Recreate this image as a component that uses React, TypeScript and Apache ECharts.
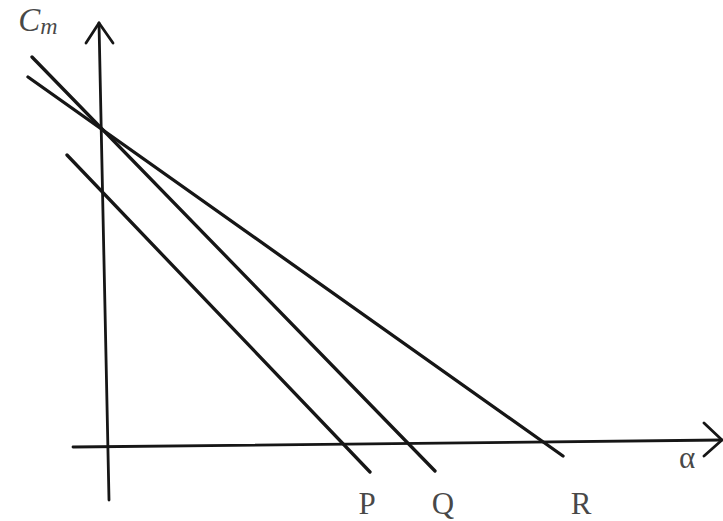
import React, { useEffect, useRef } from "react";
import * as echarts from "echarts";

// Diagram coordinates: origin at the axes' crossing, x to the right, y upward.
const axisV: number[][] = [[1, -53], [-9, 424]];
const arrowV: number[][] = [[-22, 404], [-9, 424], [5, 404]];
const axisH: number[][] = [[-35, 0], [614, 7]];
const arrowH: number[][] = [[596, 24], [614, 7], [596, -9]];
const lineP: number[][] = [[-41, 292], [262, -25]];
const lineQ: number[][] = [[-76, 390], [327, -24]];
const lineR: number[][] = [[-80, 370], [455, -9]];
const lineNames = ["P", "Q", "R"];
const lineLabelPos: number[][] = [[259, -56], [335, -56], [473, -56]];
const xAxisName = "α";
const xAxisNamePos: number[] = [579, -10];
const yAxisNamePos: number[] = [-70, 427];

const INK = "#161616";
const SERIF = "'Liberation Serif', 'DejaVu Serif', serif";

export default function App() {
  const ref = useRef<HTMLDivElement>(null);
  useEffect(() => {
    if (!ref.current) return;
    const chart = echarts.init(ref.current, undefined, { renderer: "svg" });
    const seg = (data: number[][], w = 3.3) => ({
      type: "line",
      data,
      symbol: "none",
      silent: true,
      lineStyle: { color: INK, width: w, cap: "round", join: "round" },
    });
    chart.setOption({
      animation: false,
      backgroundColor: "#ffffff",
      grid: { left: 0, right: 0, top: 0, bottom: 0 },
      xAxis: { type: "value", min: -108, max: 615, show: false },
      yAxis: { type: "value", min: -74, max: 447, show: false },
      series: [
        seg(axisV, 2.8),
        seg(arrowV, 2.8),
        seg(axisH, 2.8),
        seg(arrowH, 2.8),
        seg(lineP),
        seg(lineQ),
        seg(lineR),
        {
          type: "scatter",
          symbolSize: 1,
          itemStyle: { color: "transparent" },
          silent: true,
          label: {
            show: true,
            position: "inside",
            formatter: "{b}",
            color: INK,
            fontFamily: SERIF,
            fontSize: 31,
          },
          data: [
            ...lineNames.map((n, i) => ({ name: n, value: lineLabelPos[i] })),
            { name: xAxisName, value: xAxisNamePos, label: { fontSize: 31 } },
            {
              name: "Cm",
              value: yAxisNamePos,
              label: {
                formatter: "{c|C}{m|m}",
                rich: {
                  c: { fontSize: 33, fontStyle: "italic", fontFamily: SERIF, color: INK },
                  m: { fontSize: 24, fontStyle: "italic", fontFamily: SERIF, color: INK, padding: [12, 0, 0, 0] },
                },
              },
            },
          ],
        },
      ],
    });
    return () => chart.dispose();
  }, []);
  return (
    <div
      ref={ref}
      style={{ position: "fixed", left: 0, top: 0, width: 723, height: 521, background: "#fff" }}
    />
  );
}
